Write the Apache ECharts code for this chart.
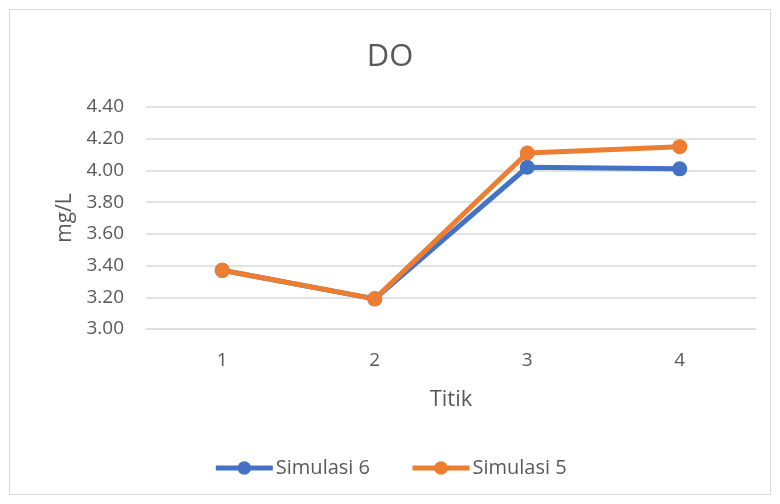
<!DOCTYPE html>
<html>
<head>
<meta charset="utf-8">
<script src="https://cdn.jsdelivr.net/npm/echarts@6/dist/echarts.min.js"></script>
<style>
  html, body { margin: 0; padding: 0; background: #fff; }
  #chart { width: 780px; height: 504px; }
</style>
</head>
<body>
<div id="chart"></div>
<script>
  // 数据
  const categories = ['1', '2', '3', '4']
  const simulasi6 = [3.37, 3.19, 4.02, 4.01]
  const simulasi5 = [3.37, 3.19, 4.11, 4.15]

  const fontFamily = 'Open Sans'
  const textColor = '#595959'

  const chart = echarts.init(document.getElementById('chart'))
  const option = {
    animation: false,
    textStyle: { fontFamily: fontFamily },
    title: {
      text: 'DO',
      left: 'center',
      top: 37,
      textStyle: { fontFamily: fontFamily, fontSize: 31, fontWeight: 'normal', color: textColor }
    },
    graphic: [{
      type: 'rect',
      shape: { x: 9.5, y: 9.5, width: 761, height: 485 },
      style: { fill: 'none', stroke: '#d9d9d9', lineWidth: 1 },
      silent: true
    }],
    legend: {
      bottom: 21,
      left: 'center',
      itemWidth: 57,
      itemHeight: 17,
      itemGap: 40,
      lineStyle: { width: 5 },
      textStyle: { fontFamily: fontFamily, fontSize: 20, color: textColor, padding: [0, 0, 0, -2] },
      data: ['Simulasi 6', 'Simulasi 5']
    },
    grid: { left: 146, right: 24, top: 107, bottom: 175 },
    xAxis: {
      type: 'category',
      data: categories,
      name: 'Titik',
      nameLocation: 'middle',
      nameGap: 60,
      nameTextStyle: { fontFamily: fontFamily, fontSize: 22, color: textColor },
      axisLine: { lineStyle: { color: '#d9d9d9', width: 1 } },
      axisTick: { show: false },
      axisLabel: { margin: 22, fontFamily: fontFamily, fontSize: 19, color: textColor }
    },
    yAxis: {
      type: 'value',
      min: 3.0,
      max: 4.4,
      interval: 0.2,
      name: 'mg/L',
      nameLocation: 'middle',
      nameGap: 70,
      nameTextStyle: { fontFamily: fontFamily, fontSize: 21, color: textColor },
      axisLine: { show: false },
      axisTick: { show: false },
      splitLine: { lineStyle: { color: '#d9d9d9', width: 1.5 } },
      axisLabel: {
        margin: 22,
        fontFamily: fontFamily,
        fontSize: 19,
        color: textColor,
        formatter: v => v.toFixed(2)
      }
    },
    series: [{
      name: 'Simulasi 6',
      type: 'line',
      data: simulasi6,
      symbol: 'circle',
      symbolSize: 15,
      itemStyle: { color: '#4472c4' },
      lineStyle: { width: 5, color: '#4472c4' }
    }, {
      name: 'Simulasi 5',
      type: 'line',
      data: simulasi5,
      symbol: 'circle',
      symbolSize: 15,
      itemStyle: { color: '#ed7d31' },
      lineStyle: { width: 5, color: '#ed7d31' }
    }]
  }
  chart.setOption(option)
</script>
</body>
</html>
